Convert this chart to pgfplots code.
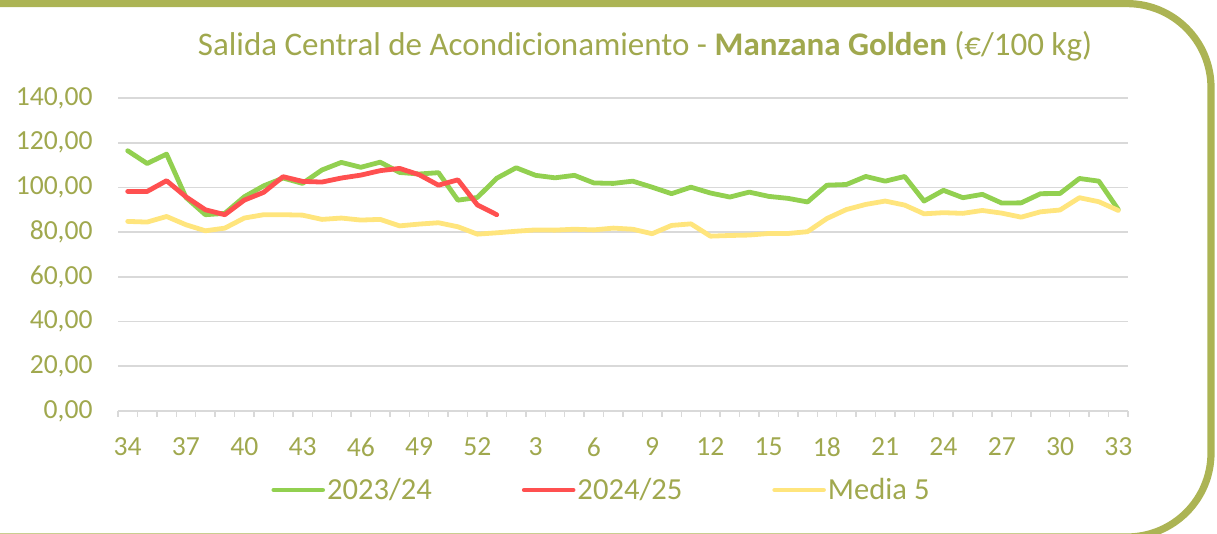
\documentclass[border=0pt]{standalone}
\usepackage{fontspec}
\setmainfont{Carlito}
\usepackage{pgfplots}
\pgfplotsset{compat=1.18}

\definecolor{olive}{RGB}{160,168,78}
\definecolor{frameolive}{RGB}{172,180,84}
\definecolor{gridgray}{RGB}{217,217,217}
\definecolor{sgreen}{RGB}{146,208,80}
\definecolor{sred}{RGB}{255,80,80}
\definecolor{syellow}{RGB}{255,229,125}

% semanas 34..52, 1..33 en posiciones 0..51
\pgfplotstableread{
x   y
0  116.4
1  110.7
2  114.9
3  95.5
4  87.8
5  88.4
6  95.8
7  100.7
8  104.2
9  101.8
10 107.8
11 111.2
12 109.0
13 111.3
14 106.7
15 106.0
16 106.6
17 94.3
18 95.5
19 104.1
20 108.8
21 105.4
22 104.3
23 105.4
24 102.0
25 101.8
26 102.8
27 100.1
28 97.2
29 100.1
30 97.5
31 95.7
32 97.9
33 96.0
34 95.1
35 93.5
36 101.0
37 101.3
38 104.9
39 102.8
40 104.9
41 93.9
42 98.7
43 95.4
44 96.9
45 93.0
46 93.1
47 97.2
48 97.3
49 104.0
50 102.8
51 90.1
}\tablaA

\pgfplotstableread{
x   y
0  98.2
1  98.2
2  103.0
3  95.8
4  90.0
5  87.8
6  94.3
7  97.8
8  104.8
9  102.7
10 102.4
11 104.2
12 105.5
13 107.5
14 108.5
15 105.7
16 101.0
17 103.4
18 92.2
19 87.8
}\tablaB

\pgfplotstableread{
x   y
0  84.8
1  84.5
2  87.0
3  83.3
4  80.6
5  81.8
6  86.3
7  87.8
8  87.8
9  87.6
10 85.7
11 86.3
12 85.4
13 85.7
14 82.8
15 83.6
16 84.2
17 82.4
18 79.1
19 79.7
20 80.4
21 81.0
22 80.9
23 81.3
24 81.0
25 81.8
26 81.3
27 79.3
28 83.0
29 83.7
30 78.2
31 78.5
32 78.7
33 79.4
34 79.4
35 80.2
36 86.1
37 90.1
38 92.4
39 93.9
40 92.1
41 88.2
42 88.7
43 88.4
44 89.7
45 88.5
46 86.7
47 89.1
48 89.9
49 95.4
50 93.6
51 89.7
}\tablaC

\begin{document}
\begin{tikzpicture}
  % marco redondeado
  \begin{scope}
    \clip (0pt,0pt) rectangle (608.5pt,267pt);
    \draw[frameolive, line width=3.6pt, rounded corners=42pt]
      (-120pt,-1.5pt) rectangle (605.5pt,265.2pt);
  \end{scope}

  \node[text=olive, font=\fontsize{16.5}{19}\selectfont, anchor=base]
    at (322.5pt,239pt)
    {Salida Central de Acondicionamiento - \textbf{Manzana Golden} (€/100 kg)};

  \begin{axis}[
      at={(59pt,61.5pt)}, anchor=south west,
      scale only axis, width=505pt, height=156.5pt,
      xmin=-0.5, xmax=51.5, ymin=0, ymax=140,
      axis x line*=bottom, axis y line*=left,
      y axis line style={draw=none},
      x axis line style={draw=gridgray, line width=0.9pt},
      ytick={0,20,...,140},
      ymajorgrids, grid style={draw=gridgray, line width=0.9pt},
      xtick={0,3,...,51},
      xticklabels={34,37,40,43,46,49,52,3,6,9,12,15,18,21,24,27,30,33},
      minor xtick={-0.5,0.5,...,51.5},
      tick align=outside,
      major tick length=0pt, minor tick length=2.8pt,
      minor tick style={draw=gridgray, line width=0.7pt},
      major tick style={draw=none},
      /pgf/number format/.cd, fixed, fixed zerofill, precision=2, use comma,
        assume math mode=true,
      /pgfplots/.cd,
      ticklabel style={text=olive, font=\fontsize{13.8}{16}\selectfont, inner sep=0pt},
      yticklabel style={anchor=east, xshift=-12.5pt},
      xticklabel style={anchor=north, yshift=-13pt},
      legend style={at={(0.4787,-0.2524)}, anchor=center, draw=none, fill=none,
        font=\fontsize{15.3}{18}\selectfont, text=olive,
        /tikz/every even column/.append style={column sep=44pt},
        nodes={inner sep=1pt}},
      legend columns=-1,
      legend image code/.code={
        \draw[#1, line cap=round] (1.3pt,0pt) -- (25.7pt,0pt);},
      every axis plot/.append style={line width=2.4pt, line join=round, line cap=round},
    ]
    \addplot[sgreen, mark=none] table[x=x, y=y] {\tablaA};
    \addplot[sred, mark=none] table[x=x, y=y] {\tablaB};
    \addplot[syellow, mark=none] table[x=x, y=y] {\tablaC};
    \legend{2023/24, 2024/25, Media 5}
  \end{axis}

  \pgfresetboundingbox
  \useasboundingbox (0pt,0pt) rectangle (608.5pt,267pt);
\end{tikzpicture}
\end{document}
